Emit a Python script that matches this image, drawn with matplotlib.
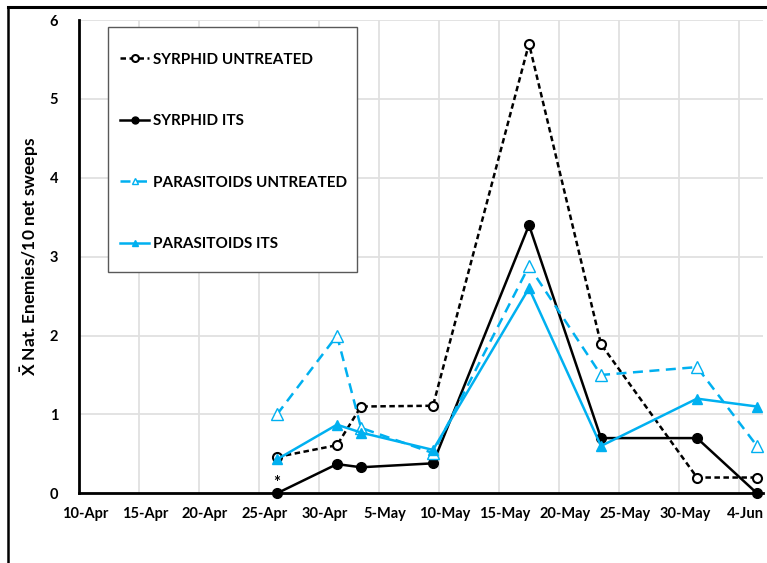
import matplotlib
matplotlib.use('Agg')
import matplotlib.pyplot as plt
import matplotlib.dates as mdates
import pandas as pd
from matplotlib.patches import Rectangle
from matplotlib.lines import Line2D
from matplotlib.ticker import FixedLocator

plt.rcParams['font.family'] = ['Lato', 'DejaVu Sans']
plt.rcParams['font.weight'] = 'bold'
plt.rcParams['mathtext.fontset'] = 'custom'
plt.rcParams['mathtext.rm'] = 'Lato:bold'
plt.rcParams['mathtext.bf'] = 'Lato:bold'
plt.rcParams['mathtext.it'] = 'Lato:bold'

# ---- data ----
dates = ['2016-04-26', '2016-05-01', '2016-05-03', '2016-05-09',
         '2016-05-17', '2016-05-23', '2016-05-31', '2016-06-05']
syrphid_untreated = [0.46, 0.61, 1.10, 1.11, 5.70, 1.89, 0.20, 0.20]
syrphid_its = [0.0, 0.37, 0.33, 0.38, 3.40, 0.70, 0.70, 0.0]
para_untreated = [1.0, 2.0, 0.83, 0.51, 2.88, 1.50, 1.60, 0.60]
para_its = [0.43, 0.87, 0.77, 0.55, 2.60, 0.60, 1.20, 1.10]
tick_dates = ['2016-04-10', '2016-04-15', '2016-04-20', '2016-04-25',
              '2016-04-30', '2016-05-05', '2016-05-10', '2016-05-15',
              '2016-05-20', '2016-05-25', '2016-05-30', '2016-06-04']
tick_labels = ['10-Apr', '15-Apr', '20-Apr', '25-Apr', '30-Apr', '5-May',
               '10-May', '15-May', '20-May', '25-May', '30-May', '4-Jun']
y_ticks = [0, 1, 2, 3, 4, 5, 6]
labels = ['SYRPHID UNTREATED', 'SYRPHID ITS',
          'PARASITOIDS UNTREATED', 'PARASITOIDS ITS']

BLUE = '#00B0F0'

x = mdates.date2num(pd.to_datetime(dates))
xt = mdates.date2num(pd.to_datetime(tick_dates))

fig = plt.figure(figsize=(7.67, 5.63), dpi=100)
ax = fig.add_axes([79/767, 1-493.3/563, (763-79)/767, (493.3-20)/563])

lw = 1.8
ax.plot(x, syrphid_untreated, color='black', lw=lw, ls=(0, (2.2, 1.4)),
        marker='o', ms=6.5, mfc='white', mec='black', mew=1.5,
        label=labels[0], zorder=3, clip_on=False)
ax.plot(x, syrphid_its, color='black', lw=lw, ls='-',
        marker='o', ms=7, mfc='black', mec='black',
        label=labels[1], zorder=3, clip_on=False)
ax.plot(x, para_untreated, color=BLUE, lw=lw, ls=(0, (4, 2.6)),
        marker='^', ms=8.5, mfc='white', mec=BLUE, mew=1.0,
        label=labels[2], zorder=3, clip_on=False)
ax.plot(x, para_its, color=BLUE, lw=lw, ls='-',
        marker='^', ms=7.5, mfc=BLUE, mec=BLUE,
        label=labels[3], zorder=3, clip_on=False)

ax.annotate('*', xy=(x[0], syrphid_its[0]), xytext=(0, 1.5),
            textcoords='offset points', ha='center', va='bottom',
            fontsize=12, fontweight='bold')

ax.set_xlim(xt[0] - 0.5, x[-1] + 0.5)
ax.set_ylim(0, 6)
ax.set_xticks(xt)
ax.set_xticklabels(tick_labels)
ax.xaxis.set_minor_locator(FixedLocator(xt[1:] - 0.5))
ax.set_yticks(y_ticks)
ax.set_yticklabels([str(v) for v in y_ticks])
ax.tick_params(axis='both', which='both', length=0, labelsize=10.5)
ax.tick_params(axis='y', pad=15)
ax.tick_params(axis='x', pad=10)
ax.grid(True, axis='y', which='major', color='#e0e0e0', lw=1.3, zorder=0)
ax.grid(True, axis='x', which='minor', color='#e0e0e0', lw=1.3, zorder=0)
ax.set_axisbelow(True)

for s in ['top', 'right']:
    ax.spines[s].set_visible(False)
for s in ['left', 'bottom']:
    ax.spines[s].set_linewidth(2)
    ax.spines[s].set_color('black')

ax.set_ylabel(r'$\bar{\mathrm{X}}$ Nat. Enemies/10 net sweeps', fontsize=12.5,
              fontweight='bold')
ax.yaxis.set_label_coords((41-79)/684, 0.5)

# legend box
rect = Rectangle(((108-79)/684, (493.3-272)/473.3), (357-108)/684,
                 (272-27)/473.3, transform=ax.transAxes, facecolor='white',
                 edgecolor='#595959', lw=1, zorder=4)
ax.add_patch(rect)
leg = ax.legend(loc='upper left', bbox_to_anchor=((120-79)/684, (493.3-52.5)/473.3),
                frameon=False, fontsize=11, borderpad=0, borderaxespad=0,
                handlelength=1.9, handletextpad=0.25, labelspacing=3.12)
leg.set_zorder(5)
for h in leg.legend_handles:
    h.set_markersize(5)

# outer frame (top and left)
fig.add_artist(Line2D([8/767, 1], [1-7/563, 1-7/563], color='black', lw=2.2,
                      transform=fig.transFigure))
fig.add_artist(Line2D([8/767, 8/767], [0, 1-7/563], color='black', lw=1.8,
                      transform=fig.transFigure))

fig.savefig('out.png', dpi=100)
